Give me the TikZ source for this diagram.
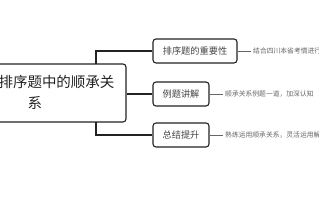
\documentclass[tikz,border=0pt]{standalone}
\usepackage{fontspec}
\newfontfamily\cjk{Noto Sans CJK SC}
\definecolor{ink}{HTML}{222222}
\definecolor{childtext}{HTML}{444444}
\definecolor{leafgray}{HTML}{666666}
\tikzset{
  rootbox/.style={draw=ink, line width=1.1pt, rounded corners=3pt, minimum width=180pt, minimum height=58pt, inner sep=0pt},
  childbox/.style={draw=ink, line width=1.1pt, rounded corners=3pt, minimum height=24pt, inner sep=0pt, font=\cjk\fontsize{9.2}{11}\selectfont, text=childtext},
  link/.style={draw=ink, line width=1.2pt},
  leaflink/.style={draw=leafgray, line width=0.9pt},
  leaftext/.style={anchor=west, inner sep=0pt, font=\cjk\fontsize{6.8}{8}\selectfont, text=leafgray},
}
\begin{document}
\begin{tikzpicture}[x=1pt,y=-1pt]
\useasboundingbox (0,0) rectangle (319,200);
\clip (0,0) rectangle (319,200);
\node[rootbox] (root) at (36,93) {};
\node[font=\cjk\fontsize{14.5}{21}\selectfont, align=left, text=ink, inner sep=0pt] (roottext) at (56.5,92.5) {排序题中的顺承关\\\hspace*{2em}系};
\node[childbox, minimum width=84pt] (c1) at (195,51) {排序题的重要性};
\node[childbox, minimum width=56pt] (c2) at (181,94) {例题讲解};
\node[childbox, minimum width=56pt] (c3) at (181,135) {总结提升};
\coordinate (rtop) at (96,64);
\coordinate (rbot) at (96,122);
\draw[link] (rtop) |- (c1.west);
\draw[link] (root.east |- c2.west) -- (c2.west);
\draw[link] (rbot) |- (c3.west);
\node[leaftext] (l1) at (253,51) {结合四川本省考情进行分析};
\node[leaftext] (l2) at (225,94) {顺承关系例题一道，加深认知};
\node[leaftext] (l3) at (225,135) {熟练运用顺承关系，灵活运用解题};
\draw[leaflink] (c1.east) -- ([xshift=-2pt]l1.west);
\draw[leaflink] (c2.east) -- ([xshift=-2pt]l2.west);
\draw[leaflink] (c3.east) -- ([xshift=-2pt]l3.west);
\end{tikzpicture}
\end{document}
